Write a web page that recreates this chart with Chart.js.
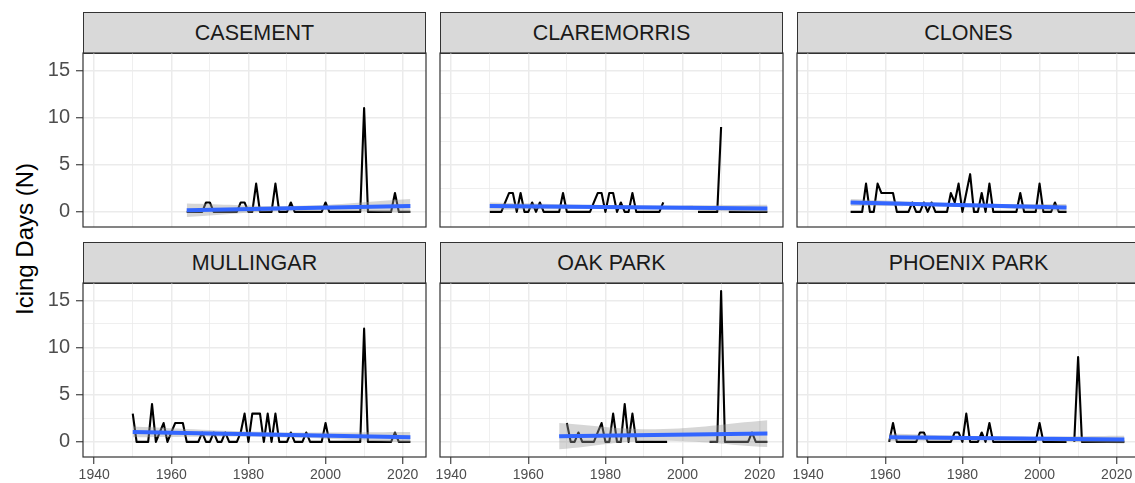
<!DOCTYPE html>
<html>
<head>
<meta charset="utf-8">
<script src="https://cdn.jsdelivr.net/npm/chart.js@4.4.1/dist/chart.umd.min.js"></script>
<style>
  html, body { margin:0; padding:0; background:#fff; overflow:hidden; }
  #wrap { position:relative; width:1135px; height:483px; overflow:hidden; font-family:"Liberation Sans", Arial, sans-serif; }
  .strip { position:absolute; box-sizing:border-box; background:#D9D9D9; border:1px solid #333; color:#1A1A1A;
           font-size:21.5px; display:flex; align-items:center; justify-content:center; white-space:nowrap; }
  .ytitle { position:absolute; left:25px; top:239px; transform:translate(-50%,-50%) rotate(-90deg);
            font-size:24px; color:#000; white-space:nowrap; }
  canvas { position:absolute; }
</style>
</head>
<body>
<div id="wrap">
  <div class="ytitle">Icing Days (N)</div>
</div>
<script>
// ---- data ----
const STATIONS = ['CASEMENT', 'CLAREMORRIS', 'CLONES', 'MULLINGAR', 'OAK PARK', 'PHOENIX PARK'];

const X_TICKS = [1940, 1950, 1960, 1970, 1980, 1990, 2000, 2010, 2020];
const Y_TICKS = [0, 2.5, 5, 7.5, 10, 12.5, 15];

const CASEMENT_START = 1964;
const CASEMENT_DAYS = [0,0,0,0,0,1,1,0,0,0, 0,0,0,0,1,1,0,0,3,0, 0,0,0,3,0,0,0,1,0,0,
  0,0,0,0,0,0,1,0,0,0, 0,0,0,0,0,0,11,0,0,0, 0,0,0,0,2,0,0,0,0];
const CASEMENT_FIT = [0.18, 0.62];
const CASEMENT_BAND_X = [1964, 1993, 2022];
const CASEMENT_BAND_HI = [0.9, 0.65, 1.36];
const CASEMENT_BAND_LO = [-0.55, 0.15, -0.12];

const CLAREMORRIS_START = 1950;
const CLAREMORRIS_DAYS = [0,0,0,0,1,2,2,0,2,0, 0,1,0,1,0,0,0,0,0,2, 0,0,0,0,0,0,0,1,2,2,
  0,2,2,0,1,0,0,2,0,0, 0,0,0,0,0,1, null,null,null,null,null,null,null,null,
  0,0,0,0,0,0, 9,null, 0,0,0,0,0,0,0,0,0,0,0];
const CLAREMORRIS_FIT = [0.62, 0.36];
const CLAREMORRIS_BAND_X = [1950, 1986, 2022];
const CLAREMORRIS_BAND_HI = [1.0, 0.7, 0.76];
const CLAREMORRIS_BAND_LO = [0.24, 0.3, -0.04];

const CLONES_START = 1951;
const CLONES_DAYS = [0,0,0,0,3,0,0,3,2,2, 2,2,0,0,0,0,1,0,0,1, 0,1,0,0,0,0,2,1,3,0,
  2,4,0,0,2,0,3,0,0,0, 0,0,0,0,2,0,0,0,0,3, 0,0,0,1,0,0,0];
const CLONES_FIT = [1.0, 0.46];
const CLONES_BAND_X = [1951, 1979, 2007];
const CLONES_BAND_HI = [1.38, 0.93, 0.84];
const CLONES_BAND_LO = [0.62, 0.53, 0.08];

const MULLINGAR_START = 1950;
const MULLINGAR_DAYS = [3,0,0,0,0,4,0,1,2,0, 1,2,2,2,0,0,0,0,1,0, 0,1,0,0,1,0,0,0,1,3,
  0,3,3,3,0,3,0,3,0,0, 0,1,0,0,0,1,0,0,0,0, 2,0,0,0,0,0,0,0,0,0,
  12,0,0,0,0,0,0,0,1,0, 0,0,0];
const MULLINGAR_FIT = [1.06, 0.5];
const MULLINGAR_BAND_X = [1950, 1986, 2022];
const MULLINGAR_BAND_HI = [1.62, 1.03, 1.06];
const MULLINGAR_BAND_LO = [0.5, 0.53, -0.06];

const OAK_PARK_START = 1968;
const OAK_PARK_DAYS = [1,null,2,0,0,1,0,0,0,0, 1,2,0,0,3,0,0,4,0,3, 0,0,0,0,0,0,0,0,0,null,
  null,null,null,null,null,null,null,null,null,0, 0,0,16,0,0,0,0,0,0,0, 1,0,0,0,0];
const OAK_PARK_FIT = [0.6, 0.88];
const OAK_PARK_BAND_X = [1968, 1993, 2022];
const OAK_PARK_BAND_HI = [2.0, 1.35, 2.3];
const OAK_PARK_BAND_LO = [-0.79, 0.13, -0.55];

const PHOENIX_PARK_START = 1961;
const PHOENIX_PARK_DAYS = [0,2,0,0,0,0,0,0,1,1, 0,0,0,0,0,0,0,1,1,0, 3,0,0,0,1,0,2,0,0,0,
  0,0,0,0,0,0,0,0,0,2, 0,0,0,0,0,0,0,null,0,9, 0,0,0,0,0,0,0,0,0,0, 0,0];
const PHOENIX_PARK_FIT = [0.5, 0.25];
const PHOENIX_PARK_BAND_X = [1961, 1991, 2022];
const PHOENIX_PARK_BAND_HI = [0.9, 0.57, 0.66];
const PHOENIX_PARK_BAND_LO = [0.1, 0.17, -0.16];

const SERIES = {
  'CASEMENT':     [CASEMENT_START, CASEMENT_DAYS, CASEMENT_FIT, CASEMENT_BAND_X, CASEMENT_BAND_HI, CASEMENT_BAND_LO],
  'CLAREMORRIS':  [CLAREMORRIS_START, CLAREMORRIS_DAYS, CLAREMORRIS_FIT, CLAREMORRIS_BAND_X, CLAREMORRIS_BAND_HI, CLAREMORRIS_BAND_LO],
  'CLONES':       [CLONES_START, CLONES_DAYS, CLONES_FIT, CLONES_BAND_X, CLONES_BAND_HI, CLONES_BAND_LO],
  'MULLINGAR':    [MULLINGAR_START, MULLINGAR_DAYS, MULLINGAR_FIT, MULLINGAR_BAND_X, MULLINGAR_BAND_HI, MULLINGAR_BAND_LO],
  'OAK PARK':     [OAK_PARK_START, OAK_PARK_DAYS, OAK_PARK_FIT, OAK_PARK_BAND_X, OAK_PARK_BAND_HI, OAK_PARK_BAND_LO],
  'PHOENIX PARK': [PHOENIX_PARK_START, PHOENIX_PARK_DAYS, PHOENIX_PARK_FIT, PHOENIX_PARK_BAND_X, PHOENIX_PARK_BAND_HI, PHOENIX_PARK_BAND_LO],
};

// ---- layout ----
const COL_X = [83, 440, 797];
const ROW_Y = [53, 283];
const STRIP_Y = [12, 242];
const PANEL_W = 343, PANEL_H = 174;
const FONT = '"Liberation Sans", Arial, sans-serif';

// ggplot-style panel border drawn over the data
const panelBorder = {
  id: 'panelBorder',
  afterDraw(chart) {
    const { ctx, chartArea: a } = chart;
    ctx.save();
    ctx.strokeStyle = '#333333';
    ctx.lineWidth = 1.2;
    ctx.strokeRect(a.left, a.top, a.right - a.left, a.bottom - a.top);
    ctx.restore();
  }
};

const wrap = document.getElementById('wrap');

STATIONS.forEach((name, idx) => {
  const col = idx % 3, row = Math.floor(idx / 3);
  const firstCol = col === 0, bottomRow = row === 1;
  const L = firstCol ? 83 : 16;
  const B = bottomRow ? 26 : 0;

  // strip
  const strip = document.createElement('div');
  strip.className = 'strip';
  strip.style.left = COL_X[col] + 'px';
  strip.style.top = STRIP_Y[row] + 'px';
  strip.style.width = PANEL_W + 'px';
  strip.style.height = (ROW_Y[row] - STRIP_Y[row] + 1) + 'px';
  strip.textContent = name;
  wrap.appendChild(strip);

  // canvas
  const cv = document.createElement('canvas');
  const w = L + PANEL_W + 2, h = 2 + PANEL_H + B + (bottomRow ? 0 : 2);
  cv.width = w; cv.height = h;
  cv.style.width = w + 'px'; cv.style.height = h + 'px';
  cv.style.left = (COL_X[col] - L) + 'px';
  cv.style.top = (ROW_Y[row] - 2) + 'px';
  wrap.appendChild(cv);

  const [start, days, fit, bandX, bandHi, bandLo] = SERIES[name];
  const obs = days.map((v, i) => ({ x: start + i, y: v }));
  const fitLine = [{ x: bandX[0], y: fit[0] }, { x: bandX[bandX.length - 1], y: fit[1] }];
  const hi = bandX.map((x, i) => ({ x, y: bandHi[i] }));
  const lo = bandX.map((x, i) => ({ x, y: bandLo[i] }));

  new Chart(cv, {
    type: 'line',
    data: {
      datasets: [
        { data: fitLine, borderColor: '#3366FF', borderWidth: 4, pointRadius: 0, tension: 0, fill: false, borderCapStyle: 'butt' },
        { data: hi, borderColor: 'rgba(0,0,0,0)', borderWidth: 0, pointRadius: 0, tension: 0.4,
          fill: '+1', backgroundColor: 'rgba(153,153,153,0.4)' },
        { data: lo, borderColor: 'rgba(0,0,0,0)', borderWidth: 0, pointRadius: 0, tension: 0.4, fill: false },
        { data: obs, borderColor: '#000000', borderWidth: 2.1, pointRadius: 0, tension: 0, fill: false,
          spanGaps: false, borderJoinStyle: 'round' },
      ]
    },
    options: {
      responsive: false,
      animation: false,
      devicePixelRatio: 1,
      layout: { padding: { top: 2, right: 2, bottom: bottomRow ? 0 : 2, left: 0 } },
      plugins: { legend: { display: false }, tooltip: { enabled: false } },
      scales: {
        x: {
          type: 'linear', min: 1937.1, max: 2026.05,
          afterBuildTicks: s => { s.ticks = X_TICKS.map(v => ({ value: v })); },
          afterFit: s => { s.height = B; s.paddingLeft = 0; s.paddingRight = 0; },
          border: { display: false },
          grid: {
            color: '#EBEBEB',
            lineWidth: c => (c.tick && c.tick.value % 20 === 0) ? 1.5 : 0.8,
            drawTicks: bottomRow, tickLength: 7, tickWidth: 1.1,
            tickColor: c => (c.tick && c.tick.value % 20 === 0) ? '#333333' : 'rgba(0,0,0,0)'
          },
          ticks: {
            display: bottomRow, autoSkip: false, maxRotation: 0, padding: 3,
            color: '#4D4D4D', font: { family: FONT, size: 14 },
            callback: v => v % 20 === 0 ? String(v) : ''
          }
        },
        y: {
          type: 'linear', min: -1.6, max: 16.84,
          afterBuildTicks: s => { s.ticks = Y_TICKS.map(v => ({ value: v })); },
          afterFit: s => { s.width = L; s.paddingTop = 0; s.paddingBottom = 0; },
          border: { display: false },
          grid: {
            color: '#EBEBEB',
            lineWidth: c => (c.tick && c.tick.value % 5 === 0) ? 1.5 : 0.8,
            drawTicks: firstCol, tickLength: 7, tickWidth: 1.1,
            tickColor: c => (c.tick && c.tick.value % 5 === 0) ? '#333333' : 'rgba(0,0,0,0)'
          },
          ticks: {
            display: firstCol, padding: 6,
            color: '#4D4D4D', font: { family: FONT, size: 20 },
            callback: v => v % 5 === 0 ? String(v) : ''
          }
        }
      }
    },
    plugins: [panelBorder]
  });
});
</script>
</body>
</html>
